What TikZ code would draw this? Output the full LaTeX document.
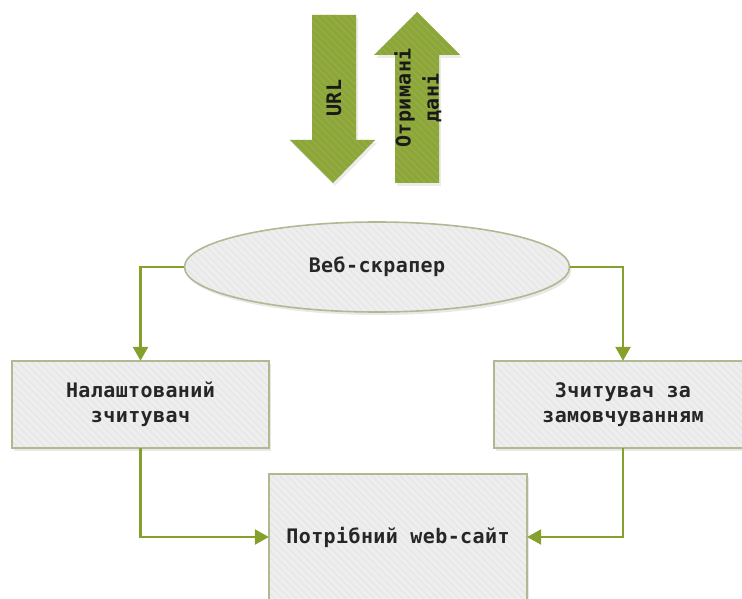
\documentclass[tikz,border=0pt]{standalone}
\usepackage{fontspec}
\setmonofont{DejaVu Sans Mono}
\usetikzlibrary{shapes.geometric,arrows.meta,shadows,patterns.meta}
\definecolor{arrowgreen}{HTML}{8CA63A}
\definecolor{linegreen}{HTML}{86A02E}
\definecolor{boxborder}{HTML}{B0BA92}
\definecolor{boxfill}{HTML}{EEEEEE}
\definecolor{stripe}{HTML}{E6E6E6}
\definecolor{greenstripe}{HTML}{96AE46}
\newfontfamily\labelfont[LetterSpace=2]{DejaVu Sans Mono Bold}
\tikzset{
  boxstyle/.style={draw=none, fill=boxfill, inner sep=0pt,
    drop shadow={opacity=0.18, shadow xshift=2pt, shadow yshift=-3pt},
    postaction={pattern={Lines[angle=-45,distance=5pt,line width=1.2pt]}, pattern color=stripe},
    postaction={draw=boxborder, line width=1.6pt},
    font=\labelfont\fontsize{20pt}{25pt}\selectfont, align=center, text=black!85},
  bigarrow/.style={fill=arrowgreen, draw=none,
    postaction={pattern={Lines[angle=-45,distance=5pt,line width=1.2pt]}, pattern color=greenstripe},
    drop shadow={opacity=0.15, shadow xshift=2pt, shadow yshift=-3pt}},
  conn/.style={draw=linegreen, line width=2.6pt, -{Triangle[width=15pt,length=14pt]}},
  arrowtext/.style={font=\labelfont\fontsize{20pt}{28pt}\selectfont, align=center, text=black!90, rotate=90}
}
\begin{document}
\begin{tikzpicture}[x=1pt,y=-1pt]
\useasboundingbox (0,0) rectangle (742,599);
\begin{scope}
\clip (0,0) rectangle (742,599);
% big arrows
\path[bigarrow] (312,15) -- (356,15) -- (356,140) -- (375,140) -- (333,183) -- (290,140) -- (312,140) -- cycle;
\path[bigarrow] (395,183) -- (439,183) -- (439,55) -- (460,55) -- (417,12) -- (374,55) -- (395,55) -- cycle;
\node[arrowtext] (url) at (334,98) {URL};
\node[arrowtext] (data) at (418,98) {Отримані\\дані};
% nodes
\node[boxstyle, ellipse, minimum width=385pt, minimum height=90pt] (scr) at (377,267) {Веб-скрапер};
\node[boxstyle, rectangle, minimum width=257pt, minimum height=87pt] (nal) at (140.5,404.5) {Налаштований\\зчитувач};
\node[boxstyle, rectangle, minimum width=258pt, minimum height=87pt] (zam) at (623,404.5) {Зчитувач за\\замовчуванням};
\node[boxstyle, rectangle, minimum width=258pt, minimum height=126pt] (site) at (398,537) {Потрібний web-сайт};
% connectors
\draw[conn] (scr.west) -| (nal.north);
\draw[conn] (scr.east) -| (zam.north);
\draw[conn] (nal.south) |- (site.west);
\draw[conn] (zam.south) |- (site.east);
\end{scope}
\end{tikzpicture}
\end{document}
